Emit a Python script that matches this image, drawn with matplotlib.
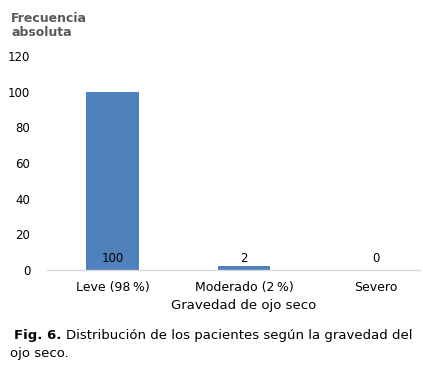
import matplotlib
matplotlib.use("Agg")
import matplotlib.pyplot as plt

categories = ["Leve (98\u2009%)", "Moderado (2\u2009%)", "Severo"]
values = [100, 2, 0]
labels = ["100", "2", "0"]
yticks = [0, 20, 40, 60, 80, 100, 120]

plt.rcParams['font.family'] = ['DejaVu Sans']

W, H = 423, 383
fig = plt.figure(figsize=(W/100, H/100), dpi=100)
ax = fig.add_axes([47/W, (H-270)/H, (420-47)/W, (270-56)/H])

x = list(range(len(categories)))
ax.bar(x, values, width=0.40, color="#4f81bd")
ax.set_xlim((47-112.5)/131.5, (420-112.5)/131.5)
ax.set_ylim(0, 120)
ax.set_yticks(yticks)
ax.set_yticklabels([str(t) for t in yticks], fontsize=8.5, color="#000000")
ax.set_xticks(x)
ax.set_xticklabels(categories, fontsize=9)
ax.tick_params(axis='both', length=0)
ax.tick_params(axis='y', pad=12)
ax.tick_params(axis='x', pad=8)
for s in ['top', 'right', 'left']:
    ax.spines[s].set_visible(False)
ax.spines['bottom'].set_color('#d9d9d9')
ax.spines['bottom'].set_linewidth(1)

for xi, lab in zip(x, labels):
    ax.annotate(lab, (xi, 0), xytext=(0, 12*0.72), textcoords='offset points',
                ha='center', va='center', fontsize=8.5, color='black')

fig.text(11/W, 1-19/H, "Frecuencia", fontsize=9, color="#595959", fontweight='bold',
         ha='left', va='center')
fig.text(11/W, 1-33/H, "absoluta", fontsize=9, color="#595959", fontweight='bold',
         ha='left', va='center')
fig.text(244/W, 1-305/H, "Gravedad de ojo seco", fontsize=9.5, color="#000000",
         ha='center', va='center')

fig.text(14/W, 1-335/H, "Fig. 6.", fontsize=9.5, fontweight='bold', ha='left', va='center')
fig.text(66/W, 1-335/H, "Distribución de los pacientes según la gravedad del",
         fontsize=9.5, ha='left', va='center')
fig.text(10/W, 1-353/H, "ojo seco.", fontsize=9.5, ha='left', va='center')

fig.savefig("out.png", dpi=100)
